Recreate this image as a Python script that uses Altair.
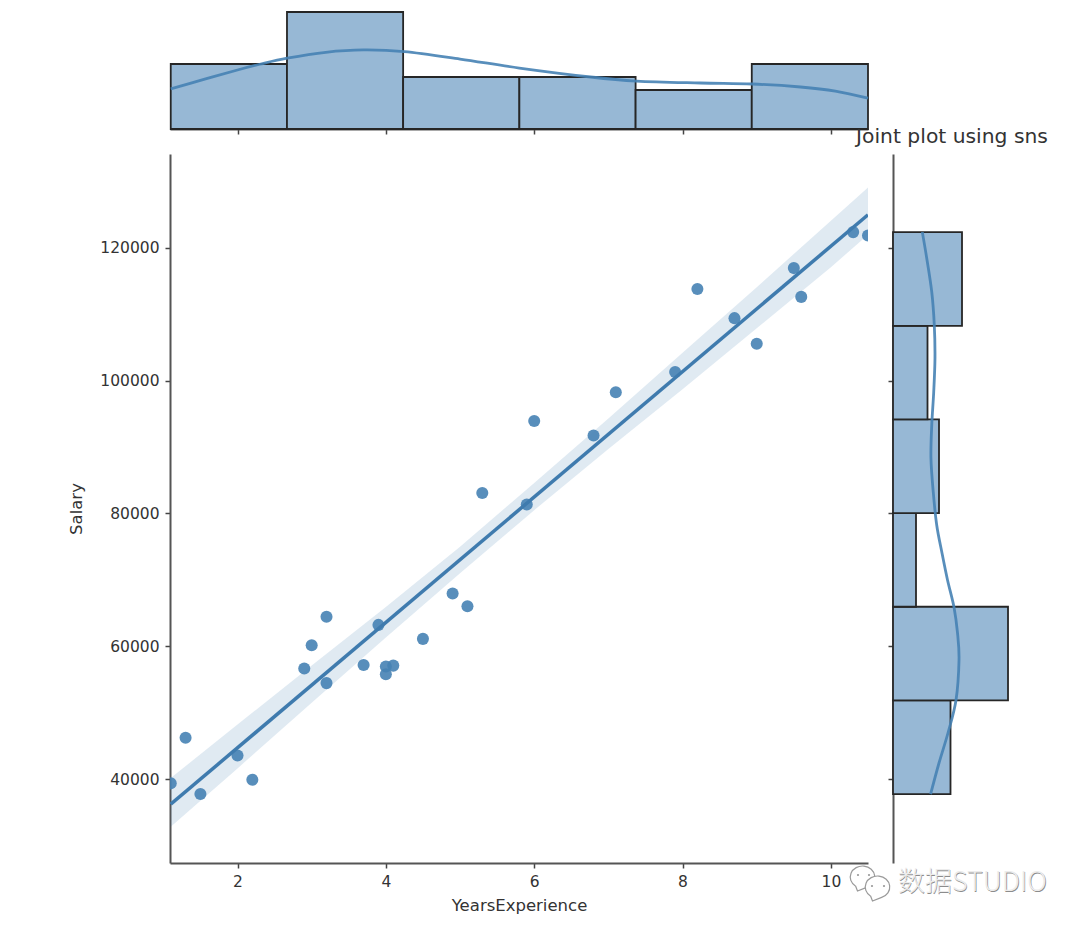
import altair as alt
import pandas as pd

years = [1.1,1.3,1.5,2.0,2.2,2.9,3.0,3.2,3.2,3.7,3.9,4.0,4.0,4.1,4.5,4.9,5.1,5.3,5.9,6.0,6.8,7.1,7.9,8.2,8.7,9.0,9.5,9.6,10.3,10.5]
salary = [39343,46205,37731,43525,39891,56642,60150,54445,64445,57189,63218,55794,56957,57081,61111,67938,66029,83088,81363,93940,91738,98273,101302,113812,109431,105582,116969,112635,122391,121872]

line_x = [1.1, 10.5]
line_y = [36200, 125000]
band_x = [1.1,2,3,4,5,6,7,8,9,10,10.5]
band_hi = [40150,48200,57100,65900,75000,84600,94300,104200,114100,124100,129100]
band_lo = [32800,41600,51500,61300,71000,80500,89700,98700,107900,117100,122000]

x_edges = [1.1,2.667,4.233,5.8,7.367,8.933,10.5]
x_counts = [5,9,4,4,3,5]
y_edges = [37731,51841,65951,80061,94171,108281,122391]
y_counts = [5,10,2,4,3,6]

kde_x = [1.1,1.57,2.0,2.3,2.67,3.19,3.7,4.25,5.0,5.8,6.76,7.38,8.24,8.94,9.59,10.06,10.5]
kde_x_d = [3.08,3.85,4.54,4.98,5.45,5.9,6.08,5.95,5.38,4.69,4.0,3.69,3.54,3.46,3.23,2.92,2.38]
kde_y = [122391,118494,113371,108400,103428,98305,93334,88362,83239,78268,74049,69981,65914,61996,57929,51902,46930,42411,37731]
kde_y_d = [2.55,2.93,3.37,3.59,3.65,3.54,3.37,3.30,3.50,3.80,4.26,4.74,5.30,5.61,5.74,5.48,4.78,4.0,3.27]

X_DOM = [1.09, 10.5]
Y_DOM = [27345, 134160]
FONT = "DejaVu Sans"
BLUE = "#4682B4"
FILL = "#97B8D5"
EDGE = "#262626"

xs = alt.Scale(domain=X_DOM, nice=False, zero=False)
ys = alt.Scale(domain=Y_DOM, nice=False, zero=False)
ax_common = dict(grid=False, domainColor="#555555", domainWidth=2, tickColor="#444444", tickWidth=1.5,
                 tickSize=5, labelFont=FONT, labelFontSize=15.5, labelColor="#333333", titleFont=FONT,
                 titleFontSize=16.5, titleFontWeight="normal", titleColor="#333333", labelFlush=False)
xvals = [2,4,6,8,10]
yvals = [40000,60000,80000,100000,120000]

# main
pts = alt.Chart(pd.DataFrame({"x": years, "y": salary})).mark_circle(size=145, opacity=0.9, color=BLUE, clip=True).encode(
    x=alt.X("x:Q", scale=xs, axis=alt.Axis(values=xvals, title="YearsExperience", format="d", labelPadding=6, titlePadding=8, **ax_common)),
    y=alt.Y("y:Q", scale=ys, axis=alt.Axis(values=yvals, title="Salary", format="d", labelPadding=6, titlePadding=15, **ax_common)),
)
band = alt.Chart(pd.DataFrame({"x": band_x, "hi": band_hi, "lo": band_lo})).mark_area(color=BLUE, opacity=0.17, clip=True).encode(
    x=alt.X("x:Q", scale=xs), y=alt.Y("lo:Q", scale=ys), y2="hi:Q")
reg = alt.Chart(pd.DataFrame({"x": line_x, "y": line_y})).mark_line(color="#3F7BAE", strokeWidth=3.5, clip=True).encode(
    x=alt.X("x:Q", scale=xs), y=alt.Y("y:Q", scale=ys))
main = alt.layer(band, pts, reg).properties(width=698, height=709)

# top marginal
top_bars = alt.Chart(pd.DataFrame({"a": x_edges[:-1], "b": x_edges[1:], "c": x_counts, "z": [0]*6})).mark_rect(
    color=FILL, stroke=EDGE, strokeWidth=1.8).encode(
    x=alt.X("a:Q", scale=xs, axis=alt.Axis(values=xvals, title=None, labels=False, **ax_common)),
    x2="b:Q",
    y=alt.Y("c:Q", scale=alt.Scale(domain=[0, 9], nice=False), axis=None),
    y2="z:Q",
)
top_kde = alt.Chart(pd.DataFrame({"x": kde_x, "d": kde_x_d})).mark_line(color=BLUE, strokeWidth=2.8, opacity=0.9, interpolate="cardinal").encode(
    x=alt.X("x:Q", scale=xs), y=alt.Y("d:Q", scale=alt.Scale(domain=[0, 9], nice=False)))
top = alt.layer(top_bars, top_kde).properties(width=698, height=117)

# right marginal
cx = alt.Scale(domain=[0, 10.26], nice=False)
right_bars = alt.Chart(pd.DataFrame({"a": y_edges[:-1], "b": y_edges[1:], "c": y_counts, "z": [0]*6})).mark_rect(
    color=FILL, stroke=EDGE, strokeWidth=1.8).encode(
    y=alt.Y("a:Q", scale=ys, axis=alt.Axis(values=yvals, title=None, labels=False, **ax_common)),
    y2="b:Q",
    x=alt.X("c:Q", scale=cx, axis=None),
    x2="z:Q",
)
right_kde = alt.Chart(pd.DataFrame({"y": kde_y, "d": kde_y_d})).mark_line(color=BLUE, strokeWidth=2.8, opacity=0.9, interpolate="cardinal", order=False).encode(
    x=alt.X("d:Q", scale=cx), y=alt.Y("y:Q", scale=ys))

# watermark
wm = pd.DataFrame({"t": ["数据STUDIO"]})
bubble = "M-0.6,0.75 A1,0.9 0 1 1 0.3,0.85 L-0.45,1.15 Z"
ic = pd.DataFrame({"i": [0]})
def bub(px, py, size):
    return alt.Chart(ic).mark_point(shape=bubble, filled=True, fill="white", stroke="#9a9a9a", strokeWidth=1.2, opacity=1, size=size).encode(
        x=alt.value(px), y=alt.value(py))
def dot(px, py):
    return alt.Chart(ic).mark_circle(size=5, color="#999999", opacity=1).encode(x=alt.value(px), y=alt.value(py))
wm_shadow = alt.Chart(wm).mark_text(font="Noto Sans CJK SC", fontSize=27, fontWeight=300, align="left", baseline="middle", color="#8c8c8c").encode(
    x=alt.value(5.6), y=alt.value(729.6), text="t:N")
wm_face = alt.Chart(wm).mark_text(font="Noto Sans CJK SC", fontSize=27, fontWeight=300, align="left", baseline="middle", color="#ececec").encode(
    x=alt.value(5), y=alt.value(729), text="t:N")
icons = [bub(-30, 723, 600), dot(-35, 721), dot(-24, 721), bub(-15, 733, 600), dot(-21, 732), dot(-9, 732)]

right = alt.layer(right_bars, right_kde, *icons, wm_shadow, wm_face).properties(
    width=118, height=709,
    title=alt.TitleParams("Joint plot using sns", font=FONT, fontSize=20.3, fontWeight="normal", color="#333333", anchor="middle", offset=7),
)

chart = alt.vconcat(
    top,
    alt.hconcat(main, right, spacing=25, bounds="flush"),
    spacing=25, bounds="flush",
).properties(padding={"left": 60, "top": 3, "right": 5, "bottom": 5}).configure_view(stroke=None)

chart.save("out.html", embed_options={"renderer": "svg", "actions": False})
